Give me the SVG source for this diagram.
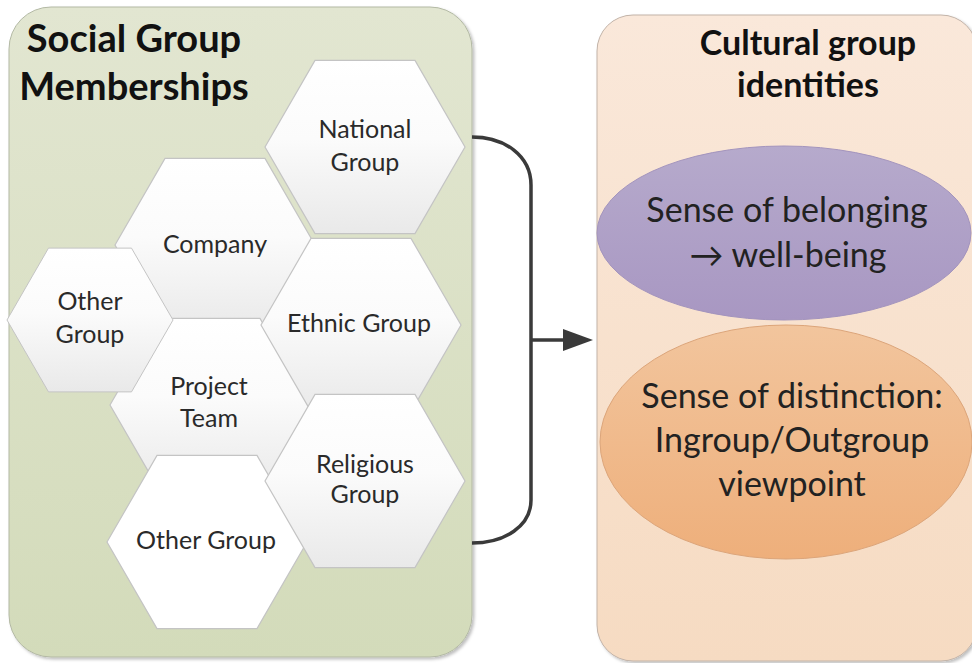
<svg xmlns="http://www.w3.org/2000/svg" width="972" height="663" viewBox="0 0 972 663">
  <defs>
    <linearGradient id="gPanelL" x1="0" y1="0" x2="0" y2="1">
      <stop offset="0" stop-color="#e2e6d1"/>
      <stop offset="1" stop-color="#d3dbba"/>
    </linearGradient>
    <linearGradient id="gPanelR" x1="0" y1="0" x2="0" y2="1">
      <stop offset="0" stop-color="#fae8da"/>
      <stop offset="1" stop-color="#f6dbc2"/>
    </linearGradient>
    <linearGradient id="gHex" x1="0" y1="0" x2="0" y2="1">
      <stop offset="0" stop-color="#ffffff"/>
      <stop offset="0.45" stop-color="#fbfbfb"/>
      <stop offset="1" stop-color="#e9e9e9"/>
    </linearGradient>
    <linearGradient id="gPurple" x1="0" y1="0" x2="0" y2="1">
      <stop offset="0" stop-color="#b6aacc"/>
      <stop offset="1" stop-color="#a897c2"/>
    </linearGradient>
    <linearGradient id="gOrange" x1="0" y1="0" x2="0" y2="1">
      <stop offset="0" stop-color="#f2c59d"/>
      <stop offset="1" stop-color="#eeaf7b"/>
    </linearGradient>
    <filter id="shadow" x="-5%" y="-5%" width="112%" height="112%">
      <feDropShadow dx="2" dy="2" stdDeviation="1.5" flood-color="#000" flood-opacity="0.25"/>
    </filter>
    <!-- regular flat-topped hexagon, radius 100 -->
    <polygon id="hex" points="-100,0 -50,-86.6 50,-86.6 100,0 50,86.6 -50,86.6"/>
  </defs>
  <style>
    .panelL { fill: url(#gPanelL); stroke: #b3b9a4; stroke-width: 1; }
    .panelR { fill: url(#gPanelR); stroke: #c2b3a8; stroke-width: 1; }
    .hex { fill: url(#gHex); stroke: #c4c4c4; stroke-width: 1.2; }
    .hexw { fill: #ffffff; stroke: #c4c4c4; stroke-width: 1.2; }
    .title { font-family: Lato, "Open Sans", sans-serif; font-weight: bold; font-size: 38px; fill: #111; text-anchor: middle; }
    .ttl2 { font-family: Lato, "Open Sans", sans-serif; font-weight: bold; font-size: 34px; fill: #111; text-anchor: middle; }
    .lbl { font-family: Lato, "Open Sans", sans-serif; font-size: 25px; fill: #2a2a2a; text-anchor: middle; }
    .big { font-family: Lato, "Open Sans", sans-serif; font-size: 34px; fill: #222; text-anchor: middle; }
    .conn { fill: none; stroke: #3a3a3a; stroke-width: 3.5; }
    .head { fill: #3a3a3a; }
  </style>

  <!-- left container -->
  <g id="social-group-memberships">
    <rect class="panelL" x="9" y="7" width="463" height="650" rx="42" ry="42" filter="url(#shadow)"/>
    <text class="title" x="134" y="52">Social Group</text>
    <text class="title" x="134" y="100">Memberships</text>
  </g>

  <!-- right container -->
  <g id="cultural-group-identities">
    <rect class="panelR" x="597" y="15" width="380" height="646" rx="36" ry="36" filter="url(#shadow)"/>
    <text class="ttl2" x="808" y="55">Cultural group</text>
    <text class="ttl2" x="808" y="97">identities</text>
  </g>

  <!-- hexagons, back to front -->
  <g id="company">
    <use href="#hex" class="hex" transform="translate(215,245)"/>
    <text class="lbl" x="215" y="253">Company</text>
  </g>
  <g id="project-team">
    <use href="#hex" class="hex" transform="translate(210,405)"/>
    <text class="lbl" x="209" y="395">Project</text>
    <text class="lbl" x="209" y="427">Team</text>
  </g>
  <g id="other-group-left">
    <use href="#hex" class="hex" transform="translate(90,320) scale(0.83)"/>
    <text class="lbl" x="90" y="310">Other</text>
    <text class="lbl" x="90" y="343">Group</text>
  </g>
  <g id="national-group">
    <use href="#hex" class="hex" transform="translate(365,147)"/>
    <text class="lbl" x="365" y="138">National</text>
    <text class="lbl" x="365" y="171">Group</text>
  </g>
  <g id="ethnic-group">
    <use href="#hex" class="hex" transform="translate(361,325)"/>
    <text class="lbl" x="359" y="332">Ethnic Group</text>
  </g>
  <g id="other-group-bottom">
    <use href="#hex" class="hexw" transform="translate(207,542)"/>
    <text class="lbl" x="206" y="549">Other Group</text>
  </g>
  <g id="religious-group">
    <use href="#hex" class="hex" transform="translate(365,481)"/>
    <text class="lbl" x="365" y="473">Religious</text>
    <text class="lbl" x="365" y="503">Group</text>
  </g>

  <!-- identity ellipses -->
  <g id="sense-of-distinction">
    <ellipse cx="786" cy="442" rx="186" ry="117" fill="url(#gOrange)" stroke="#dca57a" stroke-width="1"/>
    <text class="big" x="792" y="408">Sense of distinction:</text>
    <text class="big" x="792" y="452">Ingroup/Outgroup</text>
    <text class="big" x="792" y="496">viewpoint</text>
  </g>
  <g id="sense-of-belonging">
    <ellipse cx="784" cy="233" rx="187" ry="87" fill="url(#gPurple)" stroke="#a394bd" stroke-width="1"/>
    <text class="big" x="787" y="222">Sense of belonging</text>
    <text class="big" x="788" y="267">→ well-being</text>
  </g>

  <!-- connectors: bracket gathering the memberships, arrow into the identities -->
  <g id="connectors">
    <path class="conn" d="M472,137 C505,137 531,156 531,185 V500 C531,526 505,543 472,543"/>
    <path class="conn" d="M531,340 H566"/>
    <polygon class="head" points="563,329 593,340 563,351"/>
  </g>
</svg>
